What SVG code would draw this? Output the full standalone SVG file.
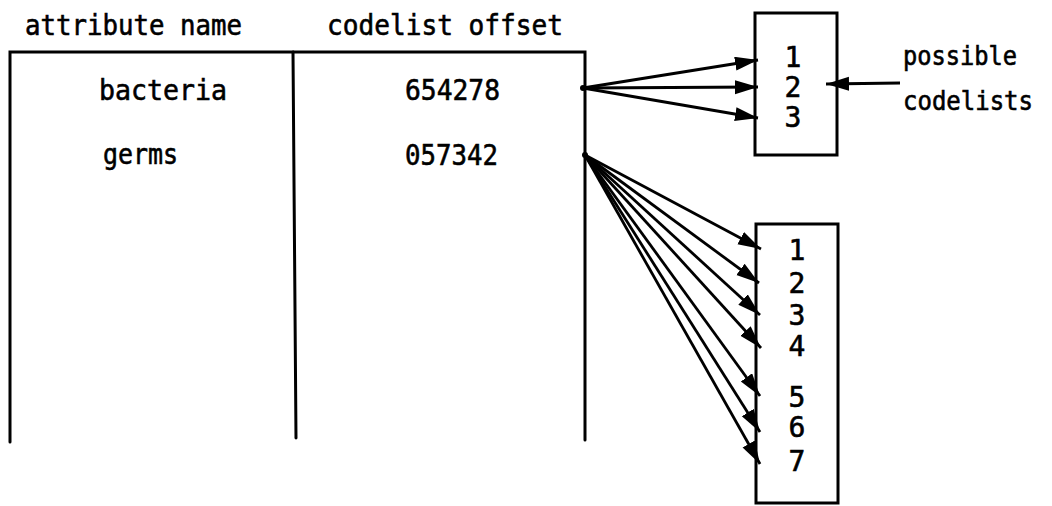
<svg xmlns="http://www.w3.org/2000/svg" width="1052" height="506" viewBox="0 0 1052 506">
<style>
  text { font-family: "DejaVu Sans Mono", "Liberation Mono", monospace; font-size: 28px; fill: #000; stroke: #000; stroke-width: 0.6px; }
  text.lbl { font-size: 26px; }
  .ln { stroke: #000; stroke-width: 3; fill: none; stroke-linecap: round; }
  .box { stroke: #000; stroke-width: 3; fill: #fff; }
  .ar { stroke: #000; stroke-width: 2.8; fill: none; marker-end: url(#ah); }
  .num { text-anchor: middle; }
</style>
<defs>
  <marker id="ah" markerUnits="userSpaceOnUse" markerWidth="26" markerHeight="16" refX="23" refY="7" orient="auto">
    <path d="M0,0 L23,7 L0,14 Z" fill="#000"/>
  </marker>
</defs>
<rect width="1052" height="506" fill="#fff"/>

<g id="table">
  <text x="25" y="35" textLength="217" lengthAdjust="spacingAndGlyphs">attribute name</text>
  <text x="327" y="35" textLength="236" lengthAdjust="spacingAndGlyphs">codelist offset</text>
  <path class="ln" d="M10,442 L10,52 L585,52 L585,440"/>
  <path class="ln" d="M293,52 L296,438"/>
  <text x="99" y="100" textLength="128" lengthAdjust="spacingAndGlyphs">bacteria</text>
  <text x="405" y="100" textLength="95" lengthAdjust="spacingAndGlyphs">654278</text>
  <text x="103" y="164" textLength="75" lengthAdjust="spacingAndGlyphs">germs</text>
  <text x="405" y="165" textLength="93" lengthAdjust="spacingAndGlyphs">057342</text>
</g>

<g id="codelist-1">
  <rect class="box" x="755" y="13" width="82" height="142"/>
  <text class="num" x="793" y="67">1</text>
  <text class="num" x="793" y="97">2</text>
  <text class="num" x="793" y="127">3</text>
</g>

<g id="codelist-2">
  <rect class="box" x="756" y="224" width="82" height="279"/>
  <text class="num" x="797" y="260">1</text>
  <text class="num" x="797" y="293">2</text>
  <text class="num" x="797" y="325">3</text>
  <text class="num" x="797" y="356">4</text>
  <text class="num" x="797" y="407">5</text>
  <text class="num" x="797" y="437">6</text>
  <text class="num" x="797" y="471">7</text>
</g>

<g id="label">
  <text class="lbl" x="903" y="65" textLength="114" lengthAdjust="spacingAndGlyphs">possible</text>
  <text class="lbl" x="903" y="110" textLength="130" lengthAdjust="spacingAndGlyphs">codelists</text>
</g>

<g id="connectors">
  <line class="ar" x1="583" y1="88" x2="758" y2="60"/>
  <line class="ar" x1="583" y1="88" x2="758" y2="87"/>
  <line class="ar" x1="583" y1="88" x2="758" y2="118"/>
  <line class="ar" x1="900" y1="83" x2="826" y2="84"/>
  <line class="ar" x1="585" y1="155" x2="761" y2="249"/>
  <line class="ar" x1="585" y1="155" x2="759" y2="283"/>
  <line class="ar" x1="585" y1="155" x2="760" y2="315"/>
  <line class="ar" x1="585" y1="155" x2="761" y2="348"/>
  <line class="ar" x1="585" y1="155" x2="760" y2="396"/>
  <line class="ar" x1="585" y1="155" x2="760" y2="432"/>
  <line class="ar" x1="585" y1="155" x2="760" y2="464"/>
  <circle cx="583" cy="88" r="3" fill="#000"/>
  <circle cx="585" cy="155" r="3" fill="#000"/>
</g>
</svg>
